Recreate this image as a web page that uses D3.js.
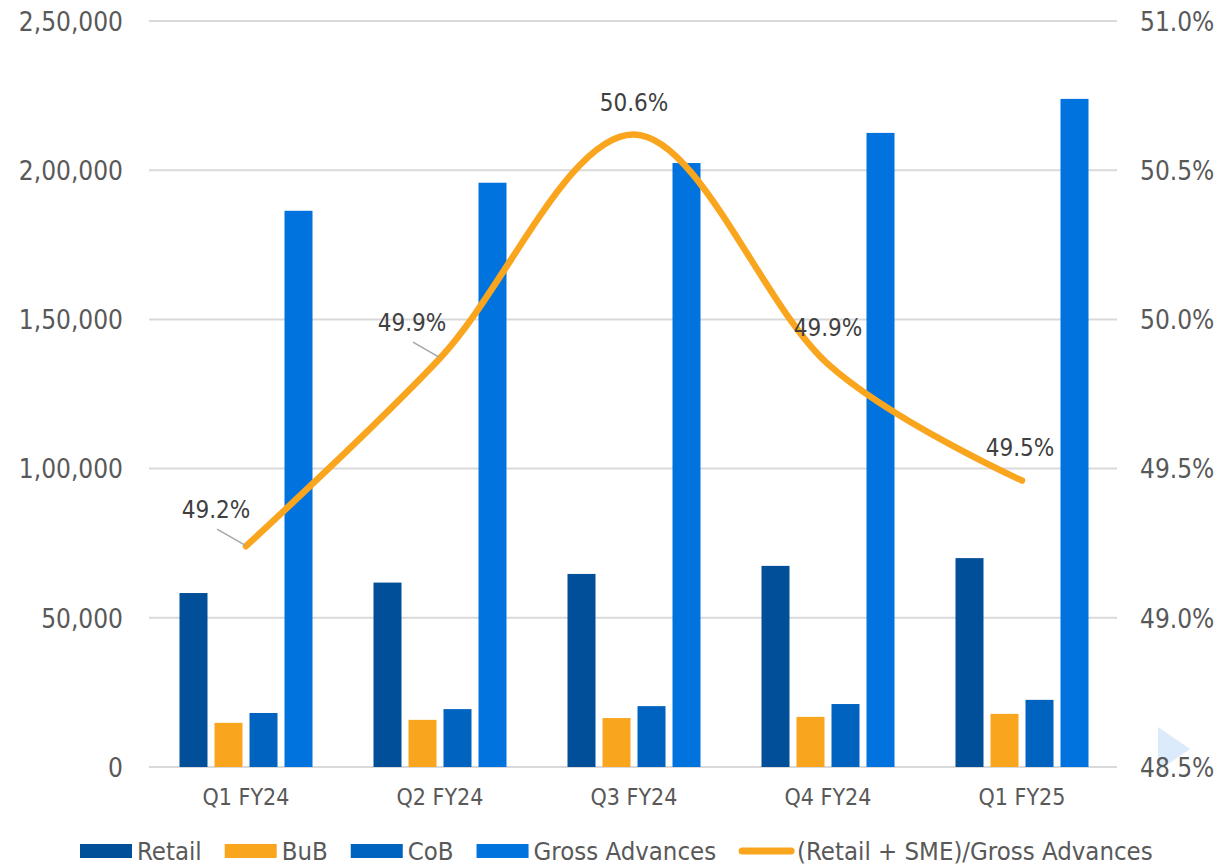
<!DOCTYPE html>
<html>
<head>
<meta charset="utf-8">
<script src="https://cdn.jsdelivr.net/npm/d3@7"></script>
<style>
  html, body { margin: 0; padding: 0; background: #fff; }
  svg text { font-family: "DejaVu Sans Condensed", "DejaVu Sans", sans-serif; font-stretch: condensed; }
</style>
</head>
<body>
<svg id="chart" width="1217" height="868"></svg>
<script>
// quarters on the x axis
var quarters = ["Q1 FY24", "Q2 FY24", "Q3 FY24", "Q4 FY24", "Q1 FY25"];

// bar series (left axis)
var retail = [58300, 61800, 64700, 67400, 70000];
var bub = [14800, 15800, 16400, 16800, 17800];
var cob = [18100, 19400, 20400, 21100, 22500];
var grossAdvances = [186400, 195800, 202400, 212500, 223900];

// line series (right axis, %)
var share = [49.24, 49.87, 50.62, 49.85, 49.46];
var shareLabels = ["49.2%", "49.9%", "50.6%", "49.9%", "49.5%"];

var leftTicks = [0, 50000, 100000, 150000, 200000, 250000];
var rightTicks = [48.5, 49.0, 49.5, 50.0, 50.5, 51.0];

var barSeries = [
  {name: "Retail", values: retail, color: "#004F98"},
  {name: "BuB", values: bub, color: "#F9A51E"},
  {name: "CoB", values: cob, color: "#0063C0"},
  {name: "Gross Advances", values: grossAdvances, color: "#0073DE"}
];
var lineName = "(Retail + SME)/Gross Advances";
var lineColor = "#F9A51E";

// where each data label sits relative to its point (labels were dragged in the original)
var labelShift = [[-30, -28, true], [-28, -27, true], [0, -23, false], [0, -28, false], [-2, -25, false]];

// indian digit grouping: 2,50,000
function inr(v){
  var s = String(Math.round(v));
  if (s.length <= 3) return s;
  var last3 = s.slice(-3), rest = s.slice(0, -3);
  rest = rest.replace(/\B(?=(\d{2})+(?!\d))/g, ",");
  return rest + "," + last3;
}

var svg = d3.select("#chart");
var plotL = 149, plotR = 1119, plotT = 21, plotB = 767;

var x0 = d3.scaleBand().domain(quarters).range([plotL, plotR]);
var x1 = d3.scaleBand().domain(barSeries.map(function(s){ return s.name; }))
  .range([(x0.bandwidth() - 133) / 2, (x0.bandwidth() + 133) / 2])
  .paddingInner(0.2);
var y = d3.scaleLinear().domain([0, 250000]).range([plotB, plotT]);
var y2 = d3.scaleLinear().domain([48.5, 51.0]).range([plotB, plotT]);

// faint decoration bottom right
svg.append("path")
  .attr("d", "M1158,727 L1190,749 L1158,771 Z")
  .attr("fill", "#DCEBFB");

// gridlines
svg.append("g").selectAll("line")
  .data(leftTicks)
  .enter().append("line")
  .attr("x1", plotL).attr("x2", 1117)
  .attr("y1", function(d){ return y(d); })
  .attr("y2", function(d){ return y(d); })
  .attr("stroke", "#D9D9D9")
  .attr("stroke-width", 2);

// left axis
var yAxis = svg.append("g")
  .attr("transform", "translate(" + (plotL - 26) + ",0)")
  .call(d3.axisLeft(y).tickValues(leftTicks).tickFormat(inr).tickSize(0).tickPadding(0));
yAxis.select(".domain").remove();
yAxis.selectAll("text").attr("font-size", 26).attr("fill", "#595959").attr("dy", "0.36em");

// right axis
var yAxis2 = svg.append("g")
  .attr("transform", "translate(1140,0)")
  .call(d3.axisRight(y2).tickValues(rightTicks).tickFormat(function(d){ return d.toFixed(1) + "%"; }).tickSize(0).tickPadding(0));
yAxis2.select(".domain").remove();
yAxis2.selectAll("text").attr("font-size", 26).attr("fill", "#595959").attr("dy", "0.36em");

// bottom axis labels
var xAxis = svg.append("g")
  .attr("transform", "translate(0," + plotB + ")")
  .call(d3.axisBottom(x0).tickSize(0).tickPadding(0));
xAxis.select(".domain").remove();
xAxis.selectAll("text").attr("font-size", 23).attr("fill", "#595959").attr("dy", "1.65em");

// bars
var groups = svg.append("g").selectAll("g")
  .data(barSeries)
  .enter().append("g")
  .attr("fill", function(s){ return s.color; });

groups.selectAll("rect")
  .data(function(s){ return s.values.map(function(v, i){ return {name: s.name, q: quarters[i], v: v}; }); })
  .enter().append("rect")
  .attr("x", function(d){ return x0(d.q) + x1(d.name); })
  .attr("width", x1.bandwidth())
  .attr("y", function(d){ return y(d.v); })
  .attr("height", function(d){ return plotB - y(d.v); });

// line
var pts = share.map(function(v, i){ return [x0(quarters[i]) + x0.bandwidth() / 2, y2(v)]; });
svg.append("path")
  .datum(pts)
  .attr("d", d3.line().curve(d3.curveCatmullRom.alpha(0)))
  .attr("fill", "none")
  .attr("stroke", lineColor)
  .attr("stroke-width", 6.5)
  .attr("stroke-linecap", "round")
  .attr("stroke-linejoin", "round");

// data labels + leader lines
pts.forEach(function(p, i){
  var sh = labelShift[i];
  if (sh[2]) {
    svg.append("line")
      .attr("x1", p[0] + sh[0] + 1).attr("y1", p[1] + sh[1] + 11)
      .attr("x2", p[0] - 1).attr("y2", p[1] - 1)
      .attr("stroke", "#A6A6A6").attr("stroke-width", 1.5);
  }
  svg.append("text")
    .attr("x", p[0] + sh[0]).attr("y", p[1] + sh[1])
    .attr("text-anchor", "middle")
    .attr("font-size", 24)
    .attr("fill", "#404040")
    .text(shareLabels[i]);
});

// legend
var legend = svg.append("g").attr("transform", "translate(80,851)");
var lx = 0;
barSeries.forEach(function(s){
  legend.append("rect").attr("x", lx).attr("y", -7).attr("width", 52).attr("height", 14).attr("fill", s.color);
  var t = legend.append("text").attr("x", lx + 57).attr("y", 0).attr("dy", "0.36em")
    .attr("font-size", 25.5).attr("fill", "#595959").text(s.name);
  lx += 57 + t.node().getComputedTextLength() + 23;
});
legend.append("line").attr("x1", lx + 3).attr("x2", lx + 52).attr("y1", 0).attr("y2", 0)
  .attr("stroke", lineColor).attr("stroke-width", 7).attr("stroke-linecap", "round");
legend.append("text").attr("x", lx + 58).attr("y", 0).attr("dy", "0.36em")
  .attr("font-size", 25.5).attr("fill", "#595959").text(lineName);
</script>
</body>
</html>
